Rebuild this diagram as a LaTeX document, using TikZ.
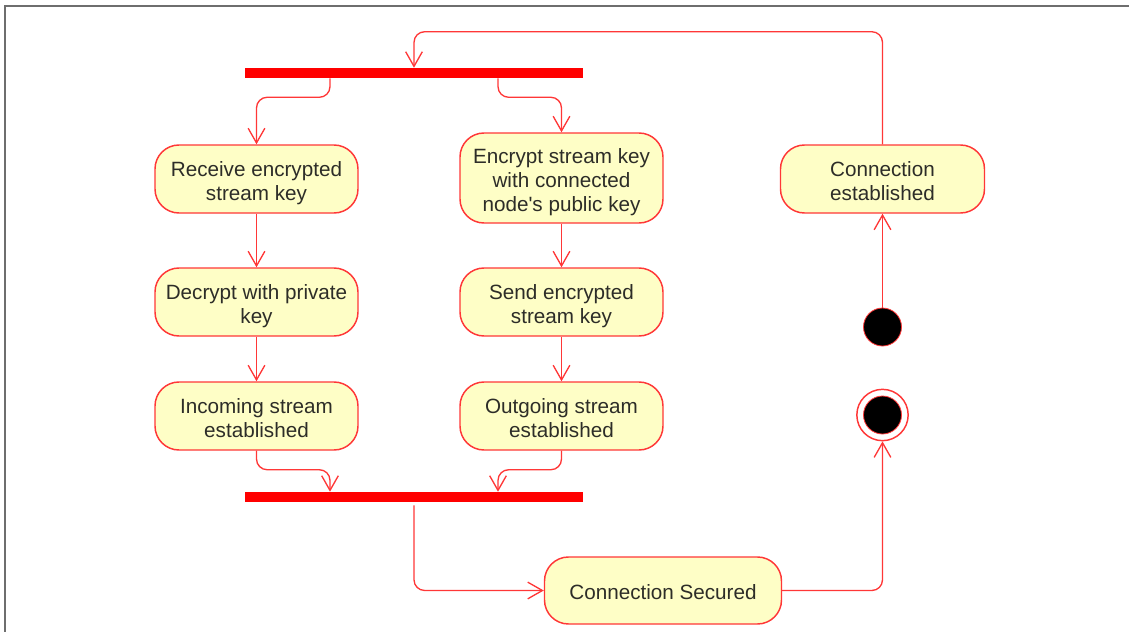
\documentclass[tikz,border=0pt]{standalone}
\usepackage{fontspec}
\setmainfont{Liberation Sans}[Ligatures=TeXOff]
\usetikzlibrary{arrows.meta,calc}
\definecolor{lred}{RGB}{255,55,55}
\definecolor{boxfill}{RGB}{254,254,198}
\definecolor{txt}{RGB}{45,45,40}
\definecolor{framegray}{RGB}{110,110,110}
\newcommand\actlbl[1]{\raisebox{-3.5pt}[\height][\depth]{\begin{tabular}{@{}c@{}}#1\end{tabular}}}
\begin{document}
\begin{tikzpicture}[x=0.75pt,y=-0.75pt,
  act/.style={draw=lred, fill=boxfill, line width=1.1pt, rounded corners=18pt,
    minimum width=152.25pt, minimum height=51pt, text=txt,
    font=\fontsize{15.5}{18}\selectfont, inner sep=0pt},
  bar/.style={fill=red, draw=none, minimum width=253.5pt, minimum height=7.5pt, inner sep=0pt},
  conn/.style={draw=lred, line width=1pt, rounded corners=8pt,
    -{Straight Barb[length=11pt,width=12.5pt,line width=1pt]}},
  startdot/.style={circle, fill=black, draw=lred, line width=0.6pt, minimum size=28.5pt, inner sep=0pt},
  endring/.style={circle, draw=lred, line width=1.1pt, minimum size=38.5pt, inner sep=0pt}
]
\useasboundingbox (0,0) rectangle (1129,632);
% frame
\coordinate (frTR) at (1129,6);
\coordinate (frTL) at (5,6);
\coordinate (frBL) at (5,632);
\draw[framegray, line width=1.3pt] (frTR) -- (frTL) -- (frBL);

% bars
\node[bar] (topbar) at (414,73) {};
\node[bar] (botbar) at (414,497) {};

% activities
\node[act] (rcv) at (256.5,179) {\actlbl{Receive encrypted\\stream key}};
\node[act, minimum height=67.5pt] (enc) at (561.5,178) {\actlbl{Encrypt stream key\\with connected\\node's public key}};
\node[act] (dec) at (256.5,302) {\actlbl{Decrypt with private\\key}};
\node[act] (snd) at (561.5,302) {\actlbl{Send encrypted\\stream key}};
\node[act] (inc) at (256.5,416) {\actlbl{Incoming stream\\established}};
\node[act] (out) at (561.5,416) {\actlbl{Outgoing stream\\established}};
\node[act, minimum width=177.75pt, minimum height=50.25pt] (sec) at (663,590.5) {\actlbl{Connection Secured}};
\node[act, minimum width=153pt] (est) at (882.5,179) {\actlbl{Connection\\established}};

% start / end
\node[startdot] (init) at (882.5,327) {};
\node[endring] (fin) at (882.5,415) {};
\node[startdot] (finin) at (fin.center) {};

% connectors
\draw[conn] ($(topbar.south)+(-84,0)$) |- ($(rcv.north)+(0,-47)$) -- (rcv.north);
\draw[conn] ($(topbar.south)+(84,0)$) |- ($(enc.north)+(0,-35)$) -- (enc.north);
\draw[conn] (rcv.south) -- (dec.north);
\draw[conn] (dec.south) -- (inc.north);
\draw[conn] (enc.south) -- (snd.north);
\draw[conn] (snd.south) -- (out.north);
\draw[conn] (inc.south) |- ($(botbar.north)+(-84,-22)$) -- ($(botbar.north)+(-84,0)$);
\draw[conn] (out.south) |- ($(botbar.north)+(84,-22)$) -- ($(botbar.north)+(84,0)$);
\draw[conn] ($(botbar.south)+(0,3)$) |- (sec.west);
\draw[conn] (sec.east) -| (fin.south);
\draw[conn] (init.north) -- (est.south);
\draw[conn] (est.north) |- ($(topbar.north)+(0,-36)$) -- (topbar.north);
\end{tikzpicture}
\end{document}
